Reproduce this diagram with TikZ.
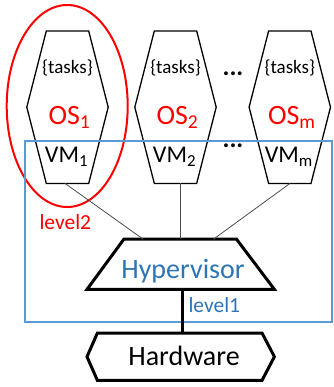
\documentclass[tikz,border=0pt]{standalone}
\usepackage{fontspec}
\setmainfont{Carlito}
\usetikzlibrary{calc}
\definecolor{frameblue}{RGB}{91,155,213}
\definecolor{textblue}{RGB}{46,117,182}
\definecolor{osred}{RGB}{255,0,0}
\tikzset{
  hexbox/.style={minimum width=81pt,minimum height=152pt,inner sep=0pt,draw=none},
  hexline/.style={draw=black,line width=1.3pt,line join=miter},
  thickline/.style={draw=black,line width=3pt,line join=miter},
  conn/.style={draw=black!70,line width=0.8pt},
  tasktxt/.style={font=\fontsize{19}{21}\selectfont,anchor=base,inner sep=0pt},
  dotstxt/.style={font=\fontsize{26}{28}\selectfont\bfseries,anchor=base,inner sep=0pt},
  ostxt/.style={font=\fontsize{28}{30}\selectfont,text=osred,anchor=base,inner sep=0pt},
  vmtxt/.style={font=\fontsize{24}{26}\selectfont,anchor=base,inner sep=0pt},
  lvltxt/.style={font=\fontsize{21.5}{23}\selectfont,anchor=base west,inner sep=0pt},
  bigtxt/.style={font=\fontsize{28}{30}\selectfont,anchor=base,inner sep=0pt},
}
\newcommand\vhex[1]{\draw[hexline] ($(#1.north west)+(19.5,0)$) -- ($(#1.north east)+(-19.5,0)$) -- (#1.east) -- ($(#1.south east)+(-19.5,0)$) -- ($(#1.south west)+(19.5,0)$) -- (#1.west) -- cycle;}
\begin{document}
\begin{tikzpicture}[x=1pt,y=-1pt]
\useasboundingbox (0,0) rectangle (333,387);
% VM hexagons
\node[hexbox] (vm1) at (67.5,107.2) {};
\node[hexbox] (vm2) at (175.5,107.2) {};
\node[hexbox] (vmm) at (289.8,107.2) {};
\vhex{vm1}\vhex{vm2}\vhex{vmm}
% texts
\foreach \n/\x/\s in {1/67.5/1,2/175.5/2,m/289.8/m}{
  \node[tasktxt] (t\n) at (\x,74) {\{tasks\}};
  \node[ostxt] (os\n) at (\x+2,124.5) {OS\textsubscript{\s}};
  \node[vmtxt] (v\n) at (\x-1,162.5) {VM\textsubscript{\s}};
}
\node[dotstxt] (dots1) at (233,76) {...};
\node[dotstxt] (dots2) at (233,148) {...};
% level2 ellipse
\draw[osred,line width=2pt] (67.2,106) ellipse [x radius=60.5,y radius=101];
\node[lvltxt,text=osred] (l2) at (39.3,229) {level2};
% level1 frame
\draw[frameblue,line width=2pt] (25,140.7) rectangle (331.5,321.7);
% hypervisor
\node[minimum width=187pt,minimum height=50pt,inner sep=0pt] (hyp) at (180.7,264.2) {};
\draw[thickline] ($(hyp.north west)+(37,0)$) -- ($(hyp.north east)+(-38,0)$) -- (hyp.south east) -- (hyp.south west) -- cycle;
\node[bigtxt,text=textblue] (hyptxt) at (183,278.3) {Hypervisor};
\coordinate (h1) at (143.3,239.3);
\coordinate (h2) at (180.7,239.3);
\coordinate (h3) at (213.3,239.3);
\draw[conn] ($(vm1.south)+(-2.5,0)$) -- (h1);
\draw[conn] ($(vm2.south)+(5.2,0)$) -- (h2);
\draw[conn] ($(vmm.south)+(0.2,0)$) -- (h3);
% hardware
\node[minimum width=187pt,minimum height=47pt,inner sep=0pt] (hw) at (180.7,356.7) {};
\draw[thickline] ($(hw.north west)+(10.4,0)$) -- ($(hw.north east)+(-12.4,0)$) -- (hw.east) -- ($(hw.south east)+(-12.4,0)$) -- ($(hw.south west)+(10.4,0)$) -- (hw.west) -- cycle;
\node[bigtxt] (hwtxt) at (184,365.7) {Hardware};
\draw[thickline] (182.7,289) -- (182.7,333.3);
\node[lvltxt,text=textblue] (l1) at (188.3,312.3) {level1};
\end{tikzpicture}
\end{document}
